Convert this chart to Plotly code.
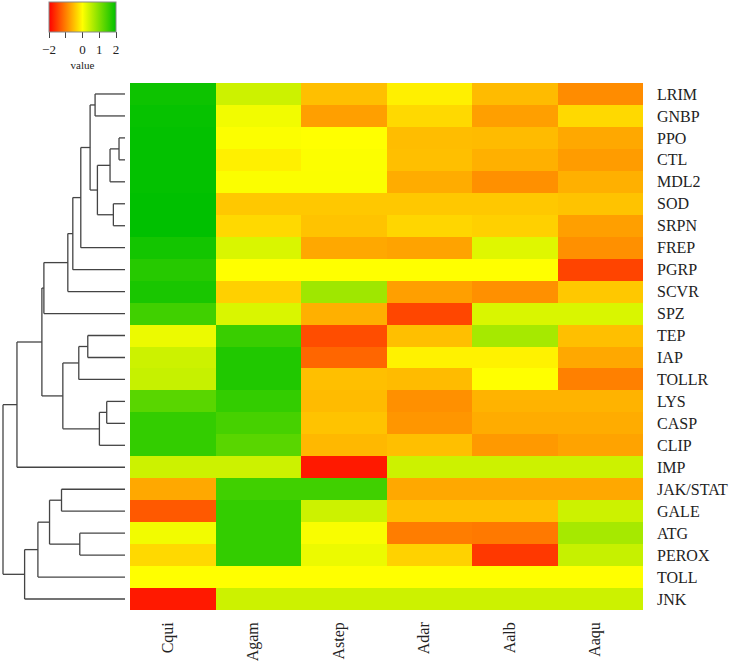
import plotly.graph_objects as go

# species (columns) and genes (rows, top to bottom, dendrogram order)
species = ["Cqui", "Agam", "Astep", "Adar", "Aalb", "Aaqu"]
genes = ["LRIM", "GNBP", "PPO", "CTL", "MDL2", "SOD", "SRPN", "FREP", "PGRP",
         "SCVR", "SPZ", "TEP", "IAP", "TOLLR", "LYS", "CASP", "CLIP", "IMP",
         "JAK/STAT", "GALE", "ATG", "PEROX", "TOLL", "JNK"]

# scaled values, one list per species
cqui = [1.90, 1.95, 1.98, 1.98, 1.98, 2.00, 2.00, 1.85, 1.70, 1.80, 1.50, 0.15,
        0.40, 0.45, 1.30, 1.60, 1.60, 0.40, -0.68, -1.30, 0.10, -0.30, 0.00, -1.80]
agam = [0.40, 0.10, 0.02, -0.12, 0.03, -0.43, -0.30, 0.30, 0.00, -0.37, 0.30, 1.55,
        1.75, 1.75, 1.60, 1.45, 1.30, 0.40, 1.50, 1.60, 1.60, 1.60, 0.00, 0.40]
astep = [-0.50, -0.75, 0.00, 0.02, 0.03, -0.43, -0.47, -0.68, 0.00, 0.75, -0.62, -1.40,
         -1.20, -0.50, -0.53, -0.47, -0.56, -1.80, 1.50, 0.40, 0.05, 0.15, 0.00, 0.40]
adar = [-0.12, -0.30, -0.52, -0.50, -0.65, -0.43, -0.32, -0.72, 0.00, -0.75, -1.45, -0.50,
        -0.10, -0.53, -0.87, -0.82, -0.50, 0.40, -0.68, -0.50, -1.02, -0.35, 0.00, 0.40]
aalb = [-0.53, -0.75, -0.53, -0.62, -0.87, -0.43, -0.37, 0.25, 0.00, -0.87, 0.30, 0.70,
        -0.10, 0.00, -0.60, -0.65, -0.80, 0.40, -0.68, -0.50, -1.05, -1.56, 0.00, 0.40]
aaqu = [-0.90, -0.30, -0.68, -0.78, -0.62, -0.47, -0.75, -0.87, -1.47, -0.43, 0.30, -0.50,
        -0.68, -1.00, -0.60, -0.65, -0.72, 0.40, -0.68, 0.40, 0.70, 0.45, 0.00, 0.40]

# row dendrogram: (child, child, height); ints refer to earlier merges
merges = [
    ("LRIM", "GNBP", 0.90),
    ("PPO", "CTL", 0.18),
    (1, "MDL2", 0.45),
    ("SOD", "SRPN", 0.35),
    (2, 3, 0.83),
    (0, 4, 1.05),
    (5, "FREP", 1.33),
    (6, "PGRP", 1.57),
    (7, "SCVR", 1.72),
    (8, "SPZ", 2.44),
    ("TEP", "IAP", 1.12),
    (10, "TOLLR", 1.39),
    ("LYS", "CASP", 0.55),
    (12, "CLIP", 0.77),
    (11, 13, 1.87),
    (9, 14, 2.50),
    (15, "IMP", 3.25),
    ("JAK/STAT", "GALE", 1.91),
    ("ATG", "PEROX", 1.36),
    (17, 18, 2.27),
    (19, "TOLL", 2.62),
    (20, "JNK", 3.02),
    (16, 21, 3.67),
]

W, H = 732, 661
hm_l, hm_r, hm_t, hm_b = 130, 643, 83, 610

z = [list(r) for r in zip(cqui, agam, astep, adar, aalb, aaqu)]

colorscale = [[0.0, "#FF0000"], [0.5, "#FFFF00"], [1.0, "#00C000"]]

fig = go.Figure()
fig.add_trace(go.Heatmap(
    z=z, x=list(range(len(species))), y=list(range(len(genes))),
    zmin=-2, zmax=2, colorscale=colorscale, xaxis="x", yaxis="y",
    hoverinfo="skip",
    colorbar=dict(
        orientation="h", lenmode="pixels", len=67, thickness=30,
        x=82.5 / W, xanchor="center", y=1 - 2 / H, yanchor="top",
        xpad=0, ypad=0, outlinewidth=1, outlinecolor="#888888",
        tickvals=[-2, -1, 0, 1, 2], ticktext=["\u22122", "", "0", "1", "2"],
        ticks="outside", ticklen=6, tickcolor="#444444",
        tickfont=dict(family="Liberation Serif", size=13, color="#222222"),
        title=dict(text="value", side="bottom",
                   font=dict(family="Liberation Serif", size=11, color="#222222")),
    ),
))

# dendrogram segments
pos = {}
hgt = {}
for i, g in enumerate(genes):
    pos[g] = i
    hgt[g] = 0.0
dx, dy = [], []
for k, (a, b, h) in enumerate(merges):
    for c in (a, b):
        dx += [hgt[c], h, None]
        dy += [pos[c], pos[c], None]
    dx += [h, h, None]
    dy += [pos[a], pos[b], None]
    pos[k] = (pos[a] + pos[b]) / 2
    hgt[k] = h

fig.add_trace(go.Scatter(x=dx, y=dy, mode="lines", xaxis="x2", yaxis="y",
                         line=dict(color="#444444", width=1.3),
                         hoverinfo="skip", showlegend=False))

px_per = (125 - 3) / 3.67
fig.update_layout(
    width=W, height=H,
    margin=dict(l=0, r=0, t=0, b=0),
    paper_bgcolor="white", plot_bgcolor="white",
    font=dict(family="Liberation Serif", color="#222222"),
    xaxis=dict(domain=[hm_l / W, hm_r / W], range=[-0.5, len(species) - 0.5],
               tickvals=list(range(len(species))), ticktext=species,
               tickangle=-90, ticks="", showgrid=False, zeroline=False,
               showline=False, ticklabelstandoff=8, ticklabelshift=-5,
               automargin=False, tickfont=dict(size=16), anchor="y"),
    yaxis=dict(domain=[1 - hm_b / H, 1 - hm_t / H],
               range=[len(genes) - 0.5, -0.5],
               tickvals=list(range(len(genes))), ticktext=genes,
               side="right", ticks="", showgrid=False, zeroline=False,
               showline=False, ticklabelstandoff=13, automargin=False,
               tickfont=dict(size=16), anchor="x"),
    xaxis2=dict(domain=[0, 130 / W], range=[125 / px_per, -5 / px_per],
                visible=False, automargin=False, anchor="y"),
)

# page has a default 8px body margin; drop it so the figure sits at 0,0
fig.write_html("out.html", config={"displayModeBar": False},
               post_script="document.body.style.margin='0';")
